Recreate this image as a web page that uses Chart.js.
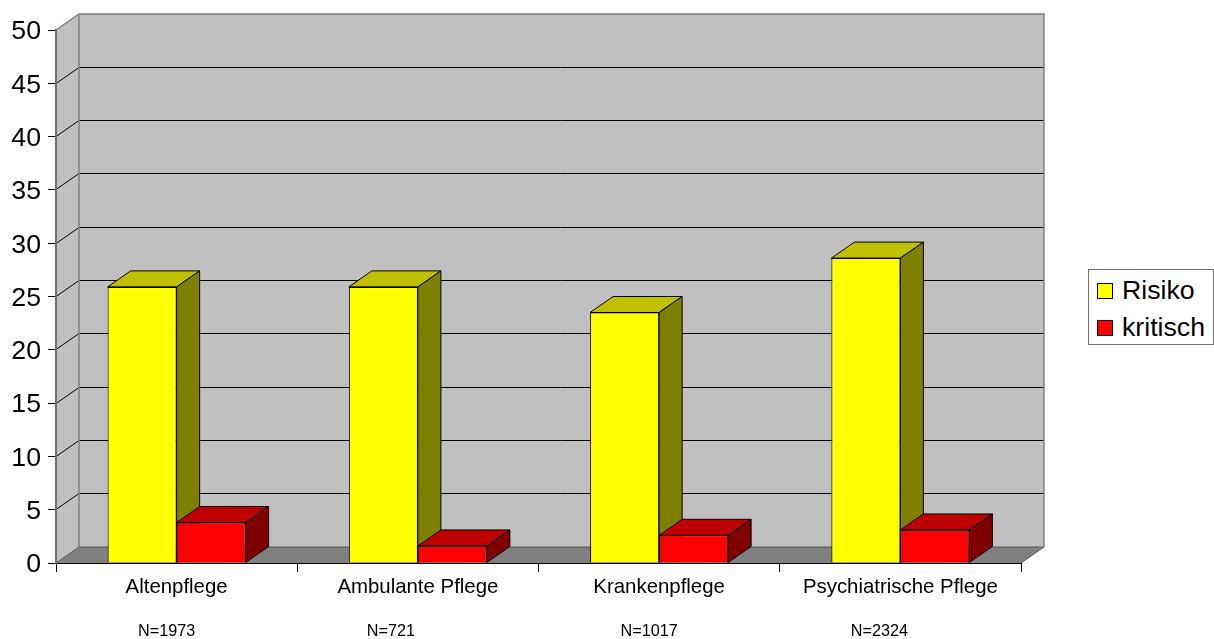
<!DOCTYPE html>
<html>
<head>
<meta charset="utf-8">
<title>Risiko</title>
<script src="https://cdn.jsdelivr.net/npm/chart.js@4/dist/chart.umd.min.js"></script>
<style>
    html, body { margin: 0; padding: 0; background: #fff; }
    #wrap { position: relative; width: 1214px; height: 639px; overflow: hidden; }
    #legend {
        position: absolute; left: 1088px; top: 269px; width: 124px; height: 74px;
        border: 1px solid #707070; background: #fff;
        font: 26.7px "Liberation Sans", Arial, sans-serif; color: #000;
    }
    #legend .row { position: absolute; left: 8px; height: 30px; line-height: 30px; white-space: nowrap; }
    #legend .box { position: absolute; left: 0; top: 7px; width: 14px; height: 14px; border: 1px solid #000; }
    #legend .name { position: absolute; left: 25px; top: -1px; }
</style>
</head>
<body>
<div id="wrap">
    <canvas id="chart" width="1214" height="639"></canvas>
    <div id="legend"></div>
</div>
<script>
var categories = ['Altenpflege', 'Ambulante Pflege', 'Krankenpflege', 'Psychiatrische Pflege'];
var risiko = [25.9, 25.9, 23.5, 28.6];
var kritisch = [3.8, 1.6, 2.6, 3.1];
var sample_sizes = ['N=1973', 'N=721', 'N=1017', 'N=2324'];
// text boxes sit a bit left of the category centre
var sample_offsets = [-10, -27, -10, -21];
var y_ticks_max = 50;
var y_ticks_step = 5;

var depth_x = 23;
var depth_y = 16;
var font_family = '"Liberation Sans", Arial, sans-serif';

function poly(ctx, points, fill, stroke) {
    ctx.beginPath();
    ctx.moveTo(points[0][0], points[0][1]);
    for (let i = 1; i < points.length; i++) {
        ctx.lineTo(points[i][0], points[i][1]);
    }
    ctx.closePath();
    if (fill) {
        ctx.fillStyle = fill;
        ctx.fill();
    }
    if (stroke) {
        ctx.strokeStyle = stroke;
        ctx.lineWidth = 1;
        ctx.stroke();
    }
}

// back wall, side wall, floor and the gridlines that run across them
var walls = {
    id: 'walls',
    beforeDraw: function(chart) {
        var ctx = chart.ctx;
        var area = chart.chartArea;
        var l = area.left, r = area.right, t = area.top, b = area.bottom;
        ctx.save();
        poly(ctx, [[l + depth_x, t - depth_y], [r + depth_x, t - depth_y], [r + depth_x, b - depth_y], [l + depth_x, b - depth_y]], '#c0c0c0');
        poly(ctx, [[l, t], [l + depth_x, t - depth_y], [l + depth_x, b - depth_y], [l, b]], '#c0c0c0');
        poly(ctx, [[l, b], [l + depth_x, b - depth_y], [r + depth_x, b - depth_y], [r, b]], '#808080');

        chart.scales.y.ticks.forEach(function(tick) {
            var y = Math.floor(chart.scales.y.getPixelForValue(tick.value)) + 0.5;
            if (tick.value === 0 || tick.value === y_ticks_max) {
                return;
            }
            ctx.strokeStyle = '#000';
            ctx.lineWidth = 1;
            ctx.beginPath();
            ctx.moveTo(l, y);
            ctx.lineTo(l + depth_x, y - depth_y);
            ctx.lineTo(r + depth_x, y - depth_y);
            ctx.stroke();
        });

        ctx.strokeStyle = '#808080';
        ctx.lineWidth = 1.5;
        ctx.beginPath();
        ctx.moveTo(l, t);
        ctx.lineTo(l + depth_x, t - depth_y);
        ctx.lineTo(r + depth_x, t - depth_y);
        ctx.lineTo(r + depth_x, b - depth_y);
        ctx.moveTo(l + depth_x, t - depth_y);
        ctx.lineTo(l + depth_x, b - depth_y);
        ctx.stroke();

        ctx.strokeStyle = '#555';
        ctx.lineWidth = 1;
        ctx.beginPath();
        ctx.moveTo(l + depth_x, b - depth_y);
        ctx.lineTo(r + depth_x, b - depth_y);
        ctx.lineTo(r, b);
        ctx.moveTo(l, b);
        ctx.lineTo(l + depth_x, b - depth_y);
        ctx.stroke();
        ctx.restore();
    },
    // the library paints the last dataset first, here the red bars have to sit
    // over the yellow ones so the series are painted by hand in dataset order
    beforeDatasetsDraw: function(chart) {
        var ctx = chart.ctx;
        chart.data.datasets.forEach(function(ds, i) {
            var meta = chart.getDatasetMeta(i);
            ctx.save();
            meta.data.forEach(function(bar) {
                var half = bar.width / 2;
                var x0 = bar.x - half, x1 = bar.x + half;
                var top = bar.y, base = bar.base;
                poly(ctx, [[x0, top], [x0 + depth_x, top - depth_y], [x1 + depth_x, top - depth_y], [x1, top]], ds.topColor, '#000');
                poly(ctx, [[x1, top], [x1 + depth_x, top - depth_y], [x1 + depth_x, base - depth_y], [x1, base]], ds.sideColor, '#000');
            });
            ctx.restore();
            meta.controller.draw();
        });
        return false;
    },
    afterDraw: function(chart) {
        var ctx = chart.ctx;
        ctx.save();
        ctx.fillStyle = '#000';
        ctx.font = '16.2px ' + font_family;
        ctx.textAlign = 'center';
        ctx.textBaseline = 'middle';
        sample_sizes.forEach(function(label, i) {
            ctx.fillText(label, chart.scales.x.getPixelForValue(i) + sample_offsets[i], 632);
        });
        ctx.restore();
    }
};

var chart = new Chart(document.getElementById('chart'), {
    type: 'bar',
    plugins: [walls],
    data: {
        labels: categories,
        datasets: [{
            label: 'Risiko',
            data: risiko,
            backgroundColor: '#ffff00',
            sideColor: '#808000',
            topColor: '#c0c000',
            borderColor: '#000',
            borderWidth: 1
        }, {
            label: 'kritisch',
            data: kritisch,
            backgroundColor: '#ff0000',
            sideColor: '#800000',
            topColor: '#c00000',
            borderColor: '#000',
            borderWidth: 1
        }]
    },
    options: {
        responsive: false,
        animation: false,
        categoryPercentage: 0.572,
        barPercentage: 1,
        layout: {
            padding: { top: 30, right: 193, left: 0, bottom: 0 }
        },
        plugins: {
            legend: { display: false },
            tooltip: { enabled: false }
        },
        scales: {
            x: {
                afterFit: function(scale) { scale.height = 76; },
                border: { color: '#000', width: 1 },
                grid: { drawOnChartArea: false, tickLength: 9, color: '#000' },
                ticks: {
                    color: '#000',
                    autoSkip: false,
                    maxRotation: 0,
                    padding: 3,
                    font: { family: font_family, size: 20.4 }
                }
            },
            y: {
                min: 0,
                max: y_ticks_max,
                afterFit: function(scale) { scale.width = 56; },
                border: { color: '#707070', width: 2 },
                grid: { drawOnChartArea: false, tickLength: 8, color: '#000' },
                ticks: {
                    stepSize: y_ticks_step,
                    color: '#000',
                    padding: 7,
                    labelOffset: 2,
                    font: { family: font_family, size: 26.7 }
                }
            }
        }
    }
});

// legend as plain html, built from the datasets
var legend = document.getElementById('legend');
chart.data.datasets.forEach(function(ds, i) {
    var row = document.createElement('div');
    row.className = 'row';
    row.style.top = (i === 0 ? 6 : 43) + 'px';
    row.innerHTML = '<span class="box" style="background:' + ds.backgroundColor + '"></span><span class="name">' + ds.label + '</span>';
    legend.appendChild(row);
});
</script>
</body>
</html>
